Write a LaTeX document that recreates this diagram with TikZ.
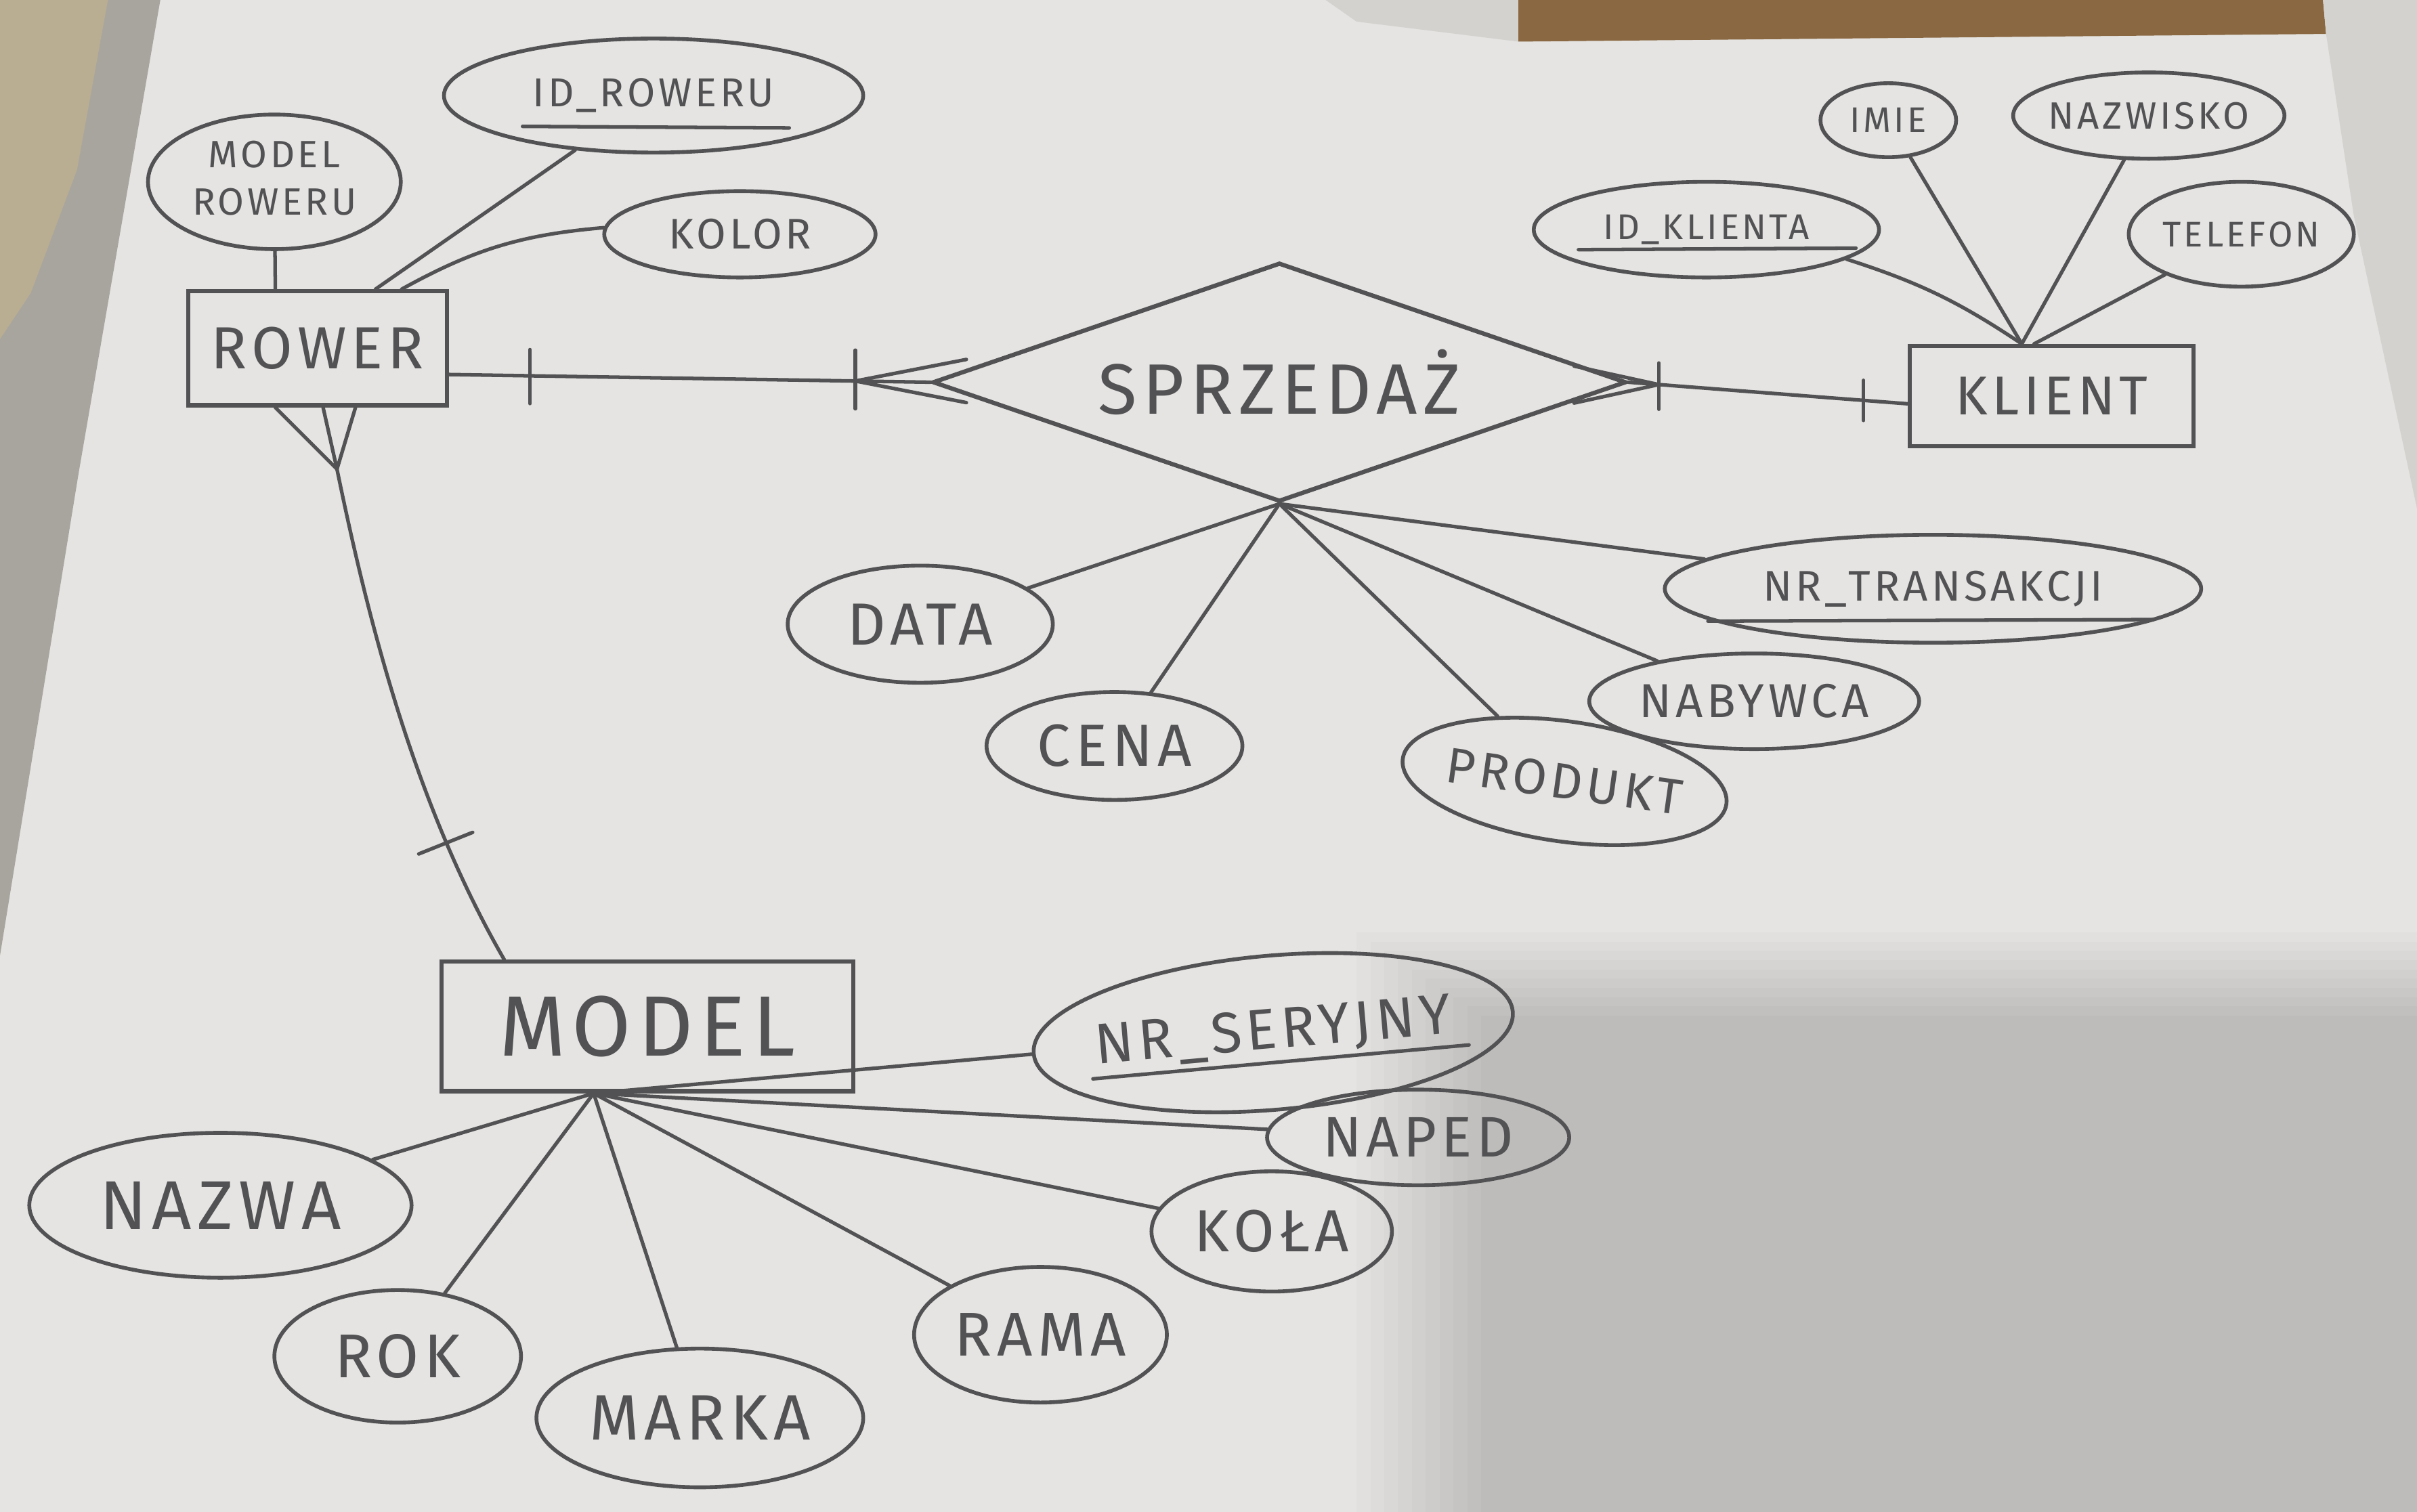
\documentclass[tikz,border=0pt]{standalone}
\usepackage{fontspec}
\setmainfont{Fira Sans}[LetterSpace=8]
\usetikzlibrary{shapes.geometric,calc}
\definecolor{ink}{RGB}{82,82,84}
\definecolor{paper}{RGB}{229,228,226}
\definecolor{fabric}{RGB}{168,165,158}
\definecolor{beige}{RGB}{185,174,146}
\definecolor{wood}{RGB}{138,104,66}
\definecolor{wall}{RGB}{212,210,207}
\newlength\dpx \setlength\dpx{0.02276cm}
\begin{document}
\begin{tikzpicture}[x=0.02276cm,y=-0.02276cm,
  ent/.style={draw=ink,line width=1.8pt,rectangle,inner sep=0pt},
  attr/.style 2 args={draw=ink,line width=1.6pt,ellipse,inner sep=0pt,minimum width=#1\dpx,minimum height=#2\dpx},
  rel/.style={draw=ink,line width=1.8pt,diamond,inner sep=0pt},
  fs/.style={font=\fontsize{#1}{#1}\selectfont},
  conn/.style={draw=ink,line width=1.5pt,line cap=round,line join=round},
  text=ink]
% background
\fill[paper] (0,0) rectangle (1568,981);
\useasboundingbox (0,0) rectangle (1568,981);
\foreach \i in {0,...,9}
  \fill[black,opacity=0.015] ({880+\i*9},{605+\i*6}) rectangle (1568,981);
\fill[fabric] (0,0) -- (104,0) -- (51,307) -- (0,620) -- cycle;
\fill[beige] (0,0) -- (70,0) -- (50,110) -- (20,190) -- (0,220) -- cycle;
\fill[wall] (860,0) -- (985,0) -- (985,27) -- (880,14) -- cycle;
\fill[wood] (985,0) -- (1507,0) -- (1509,22) -- (985,27) -- cycle;
\fill[wall] (1507,0) -- (1568,0) -- (1568,330) -- (1527,140) -- (1509,22) -- cycle;

% entities
\node[ent,minimum width=168\dpx,minimum height=74\dpx,fs=25] (rower) at (206,226) {ROWER};
\node[ent,minimum width=184\dpx,minimum height=65\dpx,fs=23] (klient) at (1331,257) {KLIENT};
\node[ent,minimum width=267\dpx,minimum height=84\dpx,fs=36] (model) at (420,666) {MODEL};
\node[rel,minimum width=450\dpx,minimum height=155\dpx,fs=30] (spr) at (830,248) {\makebox[0pt]{SPRZEDAŻ}};

% attributes
\node[attr={164}{84},font=\fontsize{16}{20}\selectfont] (mrow) at (178,118) {\makebox[0pt]{\begin{tabular}{@{}c@{}}MODEL\\ROWERU\end{tabular}}};
\node[attr={272}{74},fs=17] (idr) at (424,62) {\makebox[0pt]{ID\_ROWERU}};
\node[attr={176}{56},fs=18] (kolor) at (480,152) {\makebox[0pt]{KOLOR}};
\node[attr={88}{48},fs=15] (imie) at (1225,78) {\makebox[0pt]{IMIE}};
\node[attr={176}{56},fs=16] (nazwisko) at (1394,75) {\makebox[0pt]{NAZWISKO}};
\node[attr={224}{62},fs=15] (idk) at (1107,149) {\makebox[0pt]{ID\_KLIENTA}};
\node[attr={146}{68},fs=15] (tel) at (1454,152) {\makebox[0pt]{TELEFON}};
\node[attr={348}{70},fs=18] (nrt) at (1254,382) {\makebox[0pt]{NR\_TRANSAKCJI}};
\node[attr={172}{76},fs=25] (data) at (597,405) {\makebox[0pt]{DATA}};
\node[attr={166}{70},fs=25] (cena) at (723,484) {\makebox[0pt]{CENA}};
\node[attr={212}{78},fs=21,rotate=-8] (prod) at (1015,507) {\makebox[0pt]{PRODUKT}};
\node[attr={214}{62},fs=20] (nab) at (1138,455) {\makebox[0pt]{NABYWCA}};
\node[attr={312}{100},fs=24,rotate=5] (nrs) at (826,670) {\makebox[0pt]{NR\_SERYJNY}};
\node[attr={196}{62},fs=24] (naped) at (920,738) {\makebox[0pt]{NAPED}};
\node[attr={156}{78},fs=25] (kola) at (825,799) {\makebox[0pt]{KOŁA}};
\node[attr={164}{88},fs=26] (rama) at (675,866) {\makebox[0pt]{RAMA}};
\node[attr={212}{90},fs=27] (marka) at (454,920) {\makebox[0pt]{MARKA}};
\node[attr={160}{86},fs=26] (rok) at (258,880) {\makebox[0pt]{ROK}};
\node[attr={248}{94},fs=29] (nazwa) at (143,782) {\makebox[0pt]{NAZWA}};

% underlines of keys
\draw[conn] ($(idr.center)+(-85,20)$) -- ($(idr.center)+(88,21)$);
\draw[conn] ($(idk.center)+(-83,13)$) -- ($(idk.center)+(97,12)$);
\draw[conn] ($(nrt.center)+(-146,21)$) -- ($(nrt.center)+(143,20)$);
\draw[conn] ($(nrs.center)+(-117,30)$) -- ($(nrs.center)+(127,8)$);

% ROWER attributes
\coordinate (rA) at ($(rower.north west)+(58,0)$);
\coordinate (rB) at ($(rower.north west)+(123,0)$);
\coordinate (rC) at ($(rower.north west)+(140,0)$);
\draw[conn] (mrow) -- (rA);
\draw[conn] (idr) -- (rB);
\draw[conn] (kolor) to[bend right=12] (rC);

% KLIENT attributes
\coordinate (kh) at ($(klient.north west)+(74,0)$);
\coordinate (kh2) at ($(klient.north west)+(82,0)$);
\draw[conn] (imie) -- (kh);
\draw[conn] (nazwisko) -- (kh);
\draw[conn] (idk) to[bend left=8] (kh);
\draw[conn] (tel) -- (kh2);

% SPRZEDAZ attributes
\draw[conn] (data) -- (spr.south);
\draw[conn] (cena) -- (spr.south);
\draw[conn] (prod) -- (spr.south);
\draw[conn] (nab) -- (spr.south);
\draw[conn] (nrt) -- (spr.south);

% MODEL attributes
\coordinate (mh) at ($(model.south west)+(100,0)$);
\foreach \a in {nrs,naped,kola,rama,marka,rok,nazwa}
  \draw[conn] (\a) -- (mh);

% ROWER - SPRZEDAZ
\coordinate (r1) at ($(rower.east)+(0,17)$);
\draw[conn] (r1) -- (spr.west);
\coordinate (t1) at ($(r1)!0.168!(spr.west)$);
\draw[conn] ($(t1)+(0,-17)$) -- ($(t1)+(0,18)$);
\coordinate (cf1) at ($(r1)!0.844!(spr.west)$);
\draw[conn] ($(cf1)+(0,-20)$) -- ($(cf1)+(0,18)$);
\draw[conn] (cf1) -- ++(72,-14);
\draw[conn] (cf1) -- ++(72,14);

% SPRZEDAZ - KLIENT
\coordinate (k1) at ($(klient.west)+(0,5)$);
\draw[conn] (spr.east) -- (k1);
\coordinate (cf2) at ($(spr.east)!0.109!(k1)$);
\draw[conn] ($(cf2)+(0,-14)$) -- ($(cf2)+(0,16)$);
\draw[conn] (cf2) -- ++(-55,-12);
\draw[conn] (cf2) -- ++(-55,12);
\coordinate (t2) at ($(spr.east)!0.842!(k1)$);
\draw[conn] ($(t2)+(0,-13)$) -- ($(t2)+(0,13)$);

% ROWER - MODEL
\coordinate (cf3) at ($(rower.south west)+(98,40)$);
\coordinate (p31) at ($(rower.south west)+(58,0)$);
\coordinate (p32) at ($(rower.south west)+(89,0)$);
\coordinate (p33) at ($(rower.south west)+(110,0)$);
\draw[conn] (p31) -- (cf3) -- (p33);
\draw[conn] (p32) -- (cf3);
\coordinate (mt) at ($(model.north west)+(42,0)$);
\draw[conn] (cf3) .. controls ($(cf3)+(20,97)$) and ($(cf3)+(50,217)$) .. (mt) coordinate[pos=0.76] (t3);
\draw[conn] ($(t3)+(-18,7)$) -- ($(t3)+(17,-7)$);
\end{tikzpicture}
\end{document}
